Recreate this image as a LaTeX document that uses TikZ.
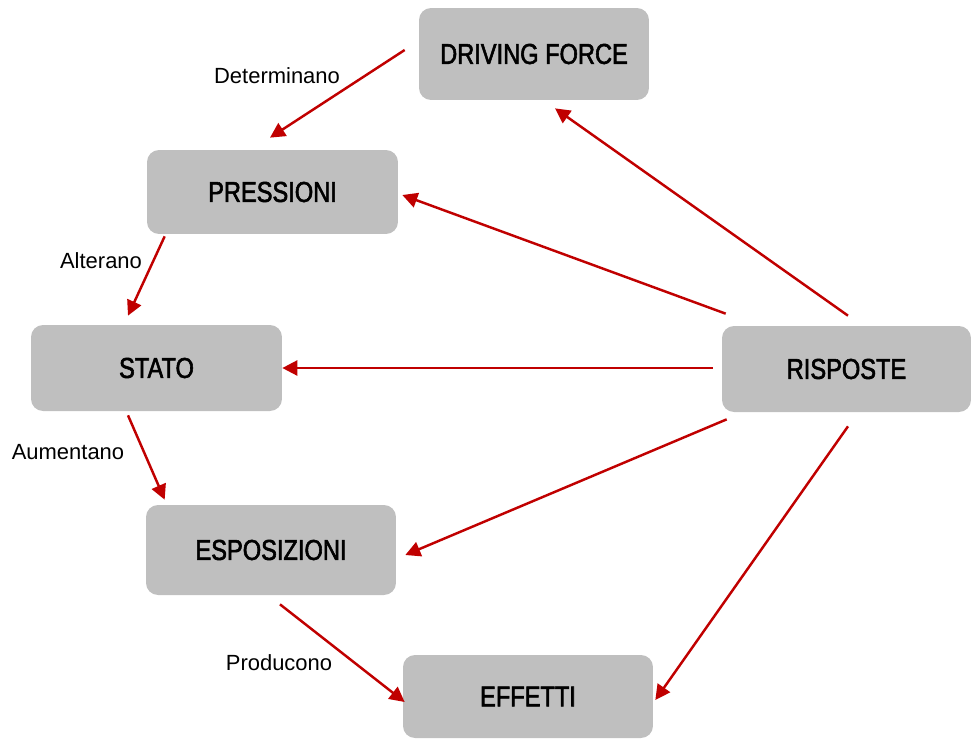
\documentclass[tikz,border=0pt]{standalone}
\usepackage{fontspec}
\setmainfont{Liberation Sans}
\newfontfamily\boxfont{Liberation Sans}[FakeStretch=0.82,FakeBold=2]
\usetikzlibrary{arrows.meta,calc}
\definecolor{boxgray}{HTML}{BFBFBF}
\definecolor{arrowred}{HTML}{C00000}
\begin{document}
\begin{tikzpicture}[x=0.02cm,y=-0.02cm,
  stage/.style={fill=boxgray,rounded corners=0.24cm,inner sep=0pt,
    font=\boxfont\fontsize{16.4}{18}\selectfont,text=black},
  flow/.style={draw=arrowred,line width=1.4pt,
    -{Triangle[length=0.3cm,width=0.3cm]}},
  tag/.style={font=\fontsize{12.5}{14}\selectfont,text=black}]
\useasboundingbox (0,0) rectangle (971,738);
\begin{scope}
\clip (0,0) rectangle (971,738);
\node[stage,minimum width=4.6cm,minimum height=1.84cm] (df) at (534,54) {DRIVING FORCE};
\node[stage,minimum width=5.02cm,minimum height=1.68cm] (pr) at (272.5,192) {PRESSIONI};
\node[stage,minimum width=5.02cm,minimum height=1.72cm] (st) at (156.5,368) {STATO};
\node[stage,minimum width=4.98cm,minimum height=1.72cm] (rs) at (846.5,369) {RISPOSTE};
\node[stage,minimum width=5.0cm,minimum height=1.8cm] (es) at (271,550) {ESPOSIZIONI};
\node[stage,minimum width=5.0cm,minimum height=1.66cm] (ef) at (528,696.5) {EFFETTI};
\end{scope}

% chain of causes
\draw[flow] ($(df.west)+(-14,-4)$) -- ($(pr.north)+(-2.5,-12)$);
\draw[flow] ($(pr.south west)+(18,2)$) -- ($(st.north)+(-28.5,-9)$);
\draw[flow] ($(st.south)+(-28.5,4)$) -- ($(es.north west)+(19,-5)$);
\draw[flow] ($(es.south)+(9,9)$) -- ($(ef.west)+(2,5.5)$);

% responses acting on each stage
\draw[flow] ($(rs.north)+(1.5,-10)$) -- ($(df.south)+(21,8)$);
\draw[flow] ($(rs.north west)+(4,-12)$) -- ($(pr.east)+(4,3)$);
\draw[flow] ($(rs.west)+(-9,-1)$) -- (st.east);
\draw[flow] ($(rs.south west)+(5,7)$) -- ($(es.east)+(9,5)$);
\draw[flow] ($(rs.south)+(1.5,14)$) -- ($(ef.east)+(2,3.5)$);

\node[tag] (t1) at (277,76) {Determinano};
\node[tag] (t2) at (101,261) {Alterano};
\node[tag] (t3) at (68,452) {Aumentano};
\node[tag] (t4) at (279,663) {Producono};
\end{tikzpicture}
\end{document}
